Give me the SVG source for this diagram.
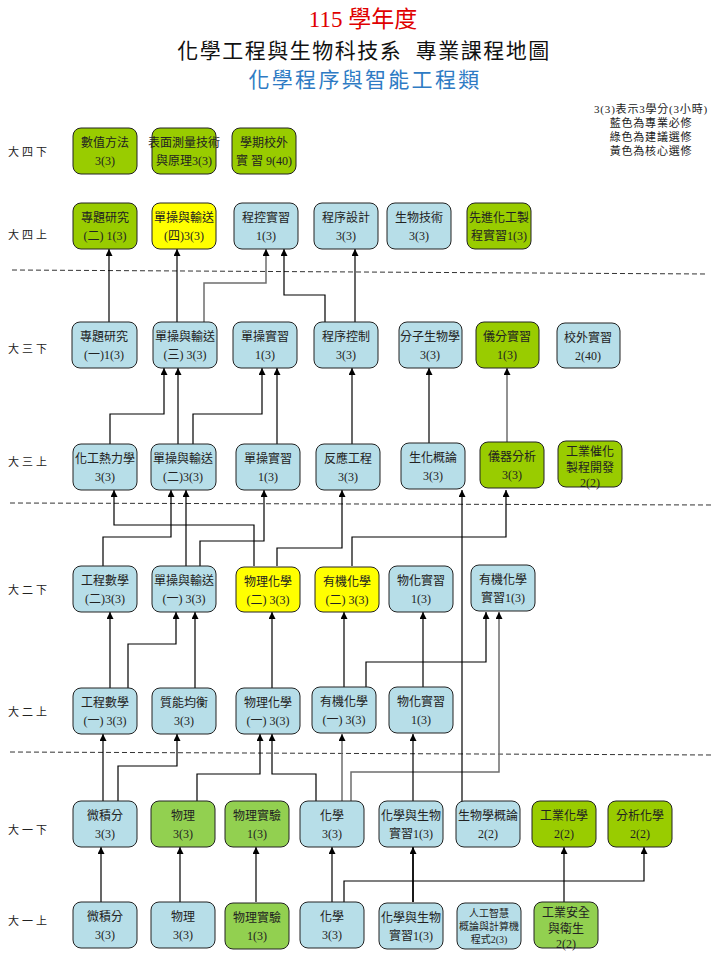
<svg xmlns="http://www.w3.org/2000/svg" width="720" height="960" viewBox="0 0 720 960">
<defs>
<style>
.bg{fill:#ffffff}
.nb rect{fill:#B7DEE8;stroke:#222;stroke-width:1}
.ng rect{fill:#99CC00;stroke:#222;stroke-width:1}
.nl rect{fill:#92D050;stroke:#222;stroke-width:1}
.ny rect{fill:#FFFF00;stroke:#222;stroke-width:1}
.node text{font-family:"Liberation Serif","Noto Sans CJK TC",serif;font-size:12px;fill:#222;text-anchor:middle}
.node text.s{font-size:10px}
.row{font-family:"Liberation Serif","Noto Sans CJK TC",serif;font-size:11px;fill:#222;letter-spacing:3px}
.leg{font-family:"Liberation Serif","Noto Sans CJK TC",serif;font-size:11px;fill:#222;text-anchor:middle;letter-spacing:0.8px}
.c{fill:none;stroke:#000;stroke-width:1.2;marker-end:url(#ah)}
.c.gr{stroke:#6E6E6E;stroke-width:1.5}
.c.th{stroke-width:1.8}
.dash{stroke:#333;stroke-width:1;stroke-dasharray:5,3}
</style>
<marker id="ah" viewBox="0 0 10 10" refX="10" refY="5" markerWidth="8" markerHeight="7" markerUnits="userSpaceOnUse" orient="auto"><path d="M0,0 L10,5 L0,10 z" fill="#000"/></marker>
</defs>
<rect class="bg" x="0" y="0" width="720" height="960"/>

<g id="title">
<text x="363" y="27" text-anchor="middle" font-family="Liberation Serif,'Noto Sans CJK TC',serif" font-size="23" fill="#E00000">115 學年度</text>
<text x="364" y="58" text-anchor="middle" font-family="Liberation Serif,'Noto Sans CJK TC',serif" font-size="21" letter-spacing="1.5" fill="#111">化學工程與生物科技系&#160;&#160;專業課程地圖</text>
<text x="365" y="87" text-anchor="middle" font-family="Liberation Serif,'Noto Sans CJK TC',serif" font-size="21" letter-spacing="2.3" fill="#2E7BC4">化學程序與智能工程類</text>
</g>

<g id="legend">
<text class="leg" x="651" y="113">3(3)表示3學分(3小時)</text>
<text class="leg" x="651" y="127">藍色為專業必修</text>
<text class="leg" x="651" y="141">綠色為建議選修</text>
<text class="leg" x="651" y="155">黃色為核心選修</text>
</g>

<g id="row-labels">
<text class="row" x="8" y="156">大四下</text>
<text class="row" x="8" y="239">大四上</text>
<text class="row" x="8" y="353">大三下</text>
<text class="row" x="8" y="466">大三上</text>
<text class="row" x="8" y="594">大二下</text>
<text class="row" x="8" y="716">大二上</text>
<text class="row" x="8" y="834">大一下</text>
<text class="row" x="8" y="925">大一上</text>
</g>

<g id="dividers">
<line class="dash" x1="12" y1="270" x2="706" y2="274"/>
<line class="dash" x1="10" y1="503" x2="712" y2="505"/>
<line class="dash" x1="10" y1="752" x2="712" y2="755"/>
</g>

<g id="connectors">
<path class="c" d="M101 902 V847"/>
<path class="c" d="M180 902 V847"/>
<path class="c" d="M256 902 V847"/>
<path class="c" d="M332 902 V847"/>
<path class="c" d="M344 902 V881 H644 V847"/>
<path class="c th" d="M413 902 V847"/>
<path class="c" d="M564 902 V847"/>

<path class="c" d="M103 801 V734"/>
<path class="c" d="M118 801 V766 H177 V734"/>
<path class="c" d="M197 801 V774 H260 V734"/>
<path class="c" d="M316 801 V774 H272 V734"/>
<path class="c gr" d="M342 801 V734"/>
<path class="c gr" d="M351 801 V772 H499 V612"/>
<path class="c" d="M413 801 V734"/>
<path class="c" d="M462 801 V490"/>

<path class="c" d="M110 688 V612"/>
<path class="c" d="M128 688 V644 H176 V612"/>
<path class="c" d="M195 688 V612"/>
<path class="c" d="M272 688 V612"/>
<path class="c" d="M344 688 V612"/>
<path class="c" d="M366 688 V662 H486 V612"/>
<path class="c" d="M423 688 V612"/>

<path class="c" d="M254 566 V525 H114 V490"/>
<path class="c" d="M103 566 V537 H171 V490"/>
<path class="c" d="M186 566 V490"/>
<path class="c" d="M200 566 V541 H264 V490"/>
<path class="c" d="M277 566 V548 H342 V490"/>
<path class="c" d="M352 566 V537 H506 V490"/>

<path class="c" d="M110 444 V414 H164 V368"/>
<path class="c" d="M178 444 V368"/>
<path class="c" d="M193 444 V414 H262 V368"/>
<path class="c" d="M277 444 V368"/>
<path class="c" d="M352 444 V368"/>
<path class="c" d="M429 444 V368"/>
<path class="c gr" d="M507 444 V368"/>

<path class="c" d="M109 322 V249"/>
<path class="c" d="M177 322 V249"/>
<path class="c gr" d="M204 322 V283 H266 V249"/>
<path class="c" d="M325 322 V295 H284 V249"/>
<path class="c" d="M355 322 V249"/>
</g>

<!-- 大四下 -->
<g id="n-numerical" class="node ng"><rect x="73" y="128" width="64" height="46" rx="8"/><text x="105" y="147">數值方法</text><text x="105" y="165">3(3)</text></g>
<g id="n-surface" class="node ng"><rect x="152" y="128" width="64" height="46" rx="8"/><text x="184" y="147" font-size="10.5">表面測量技術</text><text x="184" y="165">與原理3(3)</text></g>
<g id="n-intern9" class="node ng"><rect x="232" y="128" width="64" height="46" rx="8"/><text x="264" y="147">學期校外</text><text x="264" y="165">實 習 9(40)</text></g>

<!-- 大四上 -->
<g id="n-proj2" class="node ng"><rect x="73" y="203" width="64" height="46" rx="8"/><text x="105" y="222">專題研究</text><text x="105" y="240">(二) 1(3)</text></g>
<g id="n-uo4" class="node ny"><rect x="152" y="203" width="64" height="46" rx="8"/><text x="184" y="222">單操與輸送</text><text x="184" y="240">(四)3(3)</text></g>
<g id="n-pclab" class="node nb"><rect x="234" y="203" width="64" height="46" rx="8"/><text x="266" y="222">程控實習</text><text x="266" y="240">1(3)</text></g>
<g id="n-pdesign" class="node nb"><rect x="314" y="203" width="64" height="46" rx="8"/><text x="346" y="222">程序設計</text><text x="346" y="240">3(3)</text></g>
<g id="n-biotech" class="node nb"><rect x="387" y="203" width="64" height="46" rx="8"/><text x="419" y="222">生物技術</text><text x="419" y="240">3(3)</text></g>
<g id="n-advlab" class="node ng"><rect x="467" y="203" width="64" height="46" rx="8"/><text x="499" y="222">先進化工製</text><text x="499" y="240">程實習1(3)</text></g>

<!-- 大三下 -->
<g id="n-proj1" class="node nb"><rect x="72" y="322" width="65" height="46" rx="8"/><text x="104" y="341">專題研究</text><text x="104" y="359">(一)1(3)</text></g>
<g id="n-uo3" class="node nb"><rect x="153" y="322" width="64" height="46" rx="8"/><text x="185" y="341">單操與輸送</text><text x="185" y="359">(三) 3(3)</text></g>
<g id="n-uolab2" class="node nb"><rect x="233" y="322" width="64" height="46" rx="8"/><text x="265" y="341">單操實習</text><text x="265" y="359">1(3)</text></g>
<g id="n-pcontrol" class="node nb"><rect x="314" y="322" width="64" height="46" rx="8"/><text x="346" y="341">程序控制</text><text x="346" y="359">3(3)</text></g>
<g id="n-molbio" class="node nb"><rect x="399" y="322" width="63" height="46" rx="8"/><text x="430" y="341">分子生物學</text><text x="430" y="359">3(3)</text></g>
<g id="n-ialab" class="node ng"><rect x="476" y="322" width="63" height="46" rx="8"/><text x="507" y="341">儀分實習</text><text x="507" y="359">1(3)</text></g>
<g id="n-extintern" class="node nb"><rect x="557" y="323" width="63" height="45" rx="8"/><text x="588" y="342">校外實習</text><text x="588" y="360">2(40)</text></g>

<!-- 大三上 -->
<g id="n-thermo" class="node nb"><rect x="73" y="444" width="64" height="46" rx="8"/><text x="105" y="463">化工熱力學</text><text x="105" y="481">3(3)</text></g>
<g id="n-uo2" class="node nb"><rect x="151" y="444" width="65" height="46" rx="8"/><text x="183" y="463">單操與輸送</text><text x="183" y="481">(二)3(3)</text></g>
<g id="n-uolab1" class="node nb"><rect x="236" y="444" width="64" height="46" rx="8"/><text x="268" y="463">單操實習</text><text x="268" y="481">1(3)</text></g>
<g id="n-reaction" class="node nb"><rect x="316" y="444" width="64" height="46" rx="8"/><text x="348" y="463">反應工程</text><text x="348" y="481">3(3)</text></g>
<g id="n-biochem" class="node nb"><rect x="401" y="443" width="64" height="46" rx="8"/><text x="433" y="462">生化概論</text><text x="433" y="480">3(3)</text></g>
<g id="n-instr" class="node ng"><rect x="480" y="442" width="64" height="46" rx="8"/><text x="512" y="461">儀器分析</text><text x="512" y="479">3(3)</text></g>
<g id="n-catal" class="node ng"><rect x="558" y="441" width="64" height="46" rx="8"/><text x="590" y="456">工業催化</text><text x="590" y="472">製程開發</text><text x="590" y="487">2(2)</text></g>

<!-- 大二下 -->
<g id="n-emath2" class="node nb"><rect x="73" y="566" width="64" height="46" rx="8"/><text x="105" y="585">工程數學</text><text x="105" y="603">(二)3(3)</text></g>
<g id="n-uo1" class="node nb"><rect x="152" y="566" width="64" height="46" rx="8"/><text x="184" y="585">單操與輸送</text><text x="184" y="603">(一) 3(3)</text></g>
<g id="n-pchem2" class="node ny"><rect x="236" y="567" width="64" height="45" rx="8"/><text x="268" y="586">物理化學</text><text x="268" y="604">(二) 3(3)</text></g>
<g id="n-ochem2" class="node ny"><rect x="315" y="567" width="64" height="45" rx="8"/><text x="347" y="586">有機化學</text><text x="347" y="604">(二) 3(3)</text></g>
<g id="n-pclab2" class="node nb"><rect x="389" y="566" width="64" height="46" rx="8"/><text x="421" y="585">物化實習</text><text x="421" y="603">1(3)</text></g>
<g id="n-oclab" class="node nb"><rect x="471" y="565" width="64" height="46" rx="8"/><text x="503" y="584">有機化學</text><text x="503" y="602">實習1(3)</text></g>

<!-- 大二上 -->
<g id="n-emath1" class="node nb"><rect x="73" y="688" width="64" height="46" rx="8"/><text x="105" y="707">工程數學</text><text x="105" y="725">(一) 3(3)</text></g>
<g id="n-massbal" class="node nb"><rect x="152" y="688" width="64" height="46" rx="8"/><text x="184" y="707">質能均衡</text><text x="184" y="725">3(3)</text></g>
<g id="n-pchem1" class="node nb"><rect x="236" y="688" width="64" height="46" rx="8"/><text x="268" y="707">物理化學</text><text x="268" y="725">(一) 3(3)</text></g>
<g id="n-ochem1" class="node nb"><rect x="312" y="687" width="64" height="46" rx="8"/><text x="344" y="706">有機化學</text><text x="344" y="724">(一) 3(3)</text></g>
<g id="n-pclab1" class="node nb"><rect x="389" y="687" width="64" height="46" rx="8"/><text x="421" y="706">物化實習</text><text x="421" y="724">1(3)</text></g>

<!-- 大一下 -->
<g id="n-calc2" class="node nb"><rect x="73" y="801" width="64" height="46" rx="8"/><text x="105" y="820">微積分</text><text x="105" y="838">3(3)</text></g>
<g id="n-phys2" class="node nl"><rect x="151" y="801" width="64" height="46" rx="8"/><text x="183" y="820">物理</text><text x="183" y="838">3(3)</text></g>
<g id="n-physlab2" class="node nl"><rect x="225" y="801" width="64" height="46" rx="8"/><text x="257" y="820">物理實驗</text><text x="257" y="838">1(3)</text></g>
<g id="n-chem2" class="node nb"><rect x="300" y="801" width="64" height="46" rx="8"/><text x="332" y="820">化學</text><text x="332" y="838">3(3)</text></g>
<g id="n-cblab2" class="node nb"><rect x="379" y="801" width="64" height="46" rx="8"/><text x="411" y="820">化學與生物</text><text x="411" y="838">實習1(3)</text></g>
<g id="n-biointro" class="node nb"><rect x="456" y="801" width="64" height="46" rx="8"/><text x="488" y="820">生物學概論</text><text x="488" y="838">2(2)</text></g>
<g id="n-indchem" class="node ng"><rect x="532" y="801" width="64" height="46" rx="8"/><text x="564" y="820">工業化學</text><text x="564" y="838">2(2)</text></g>
<g id="n-anachem" class="node ng"><rect x="608" y="801" width="64" height="46" rx="8"/><text x="640" y="820">分析化學</text><text x="640" y="838">2(2)</text></g>

<!-- 大一上 -->
<g id="n-calc1" class="node nb"><rect x="73" y="902" width="64" height="46" rx="8"/><text x="105" y="921">微積分</text><text x="105" y="939">3(3)</text></g>
<g id="n-phys1" class="node nb"><rect x="151" y="902" width="64" height="46" rx="8"/><text x="183" y="921">物理</text><text x="183" y="939">3(3)</text></g>
<g id="n-physlab1" class="node nl"><rect x="225" y="903" width="64" height="46" rx="8"/><text x="257" y="922">物理實驗</text><text x="257" y="940">1(3)</text></g>
<g id="n-chem1" class="node nb"><rect x="300" y="902" width="64" height="46" rx="8"/><text x="332" y="921">化學</text><text x="332" y="939">3(3)</text></g>
<g id="n-cblab1" class="node nb"><rect x="379" y="903" width="64" height="46" rx="8"/><text x="411" y="922">化學與生物</text><text x="411" y="940">實習1(3)</text></g>
<g id="n-ai" class="node nb"><rect x="457" y="903" width="64" height="46" rx="8"/><text class="s" x="489" y="917">人工智慧</text><text class="s" x="489" y="930">概論與計算機</text><text class="s" x="489" y="943">程式2(3)</text></g>
<g id="n-safety" class="node nl"><rect x="534" y="902" width="64" height="46" rx="8"/><text x="566" y="917">工業安全</text><text x="566" y="933">與衛生</text><text x="566" y="948">2(2)</text></g>
</svg>
